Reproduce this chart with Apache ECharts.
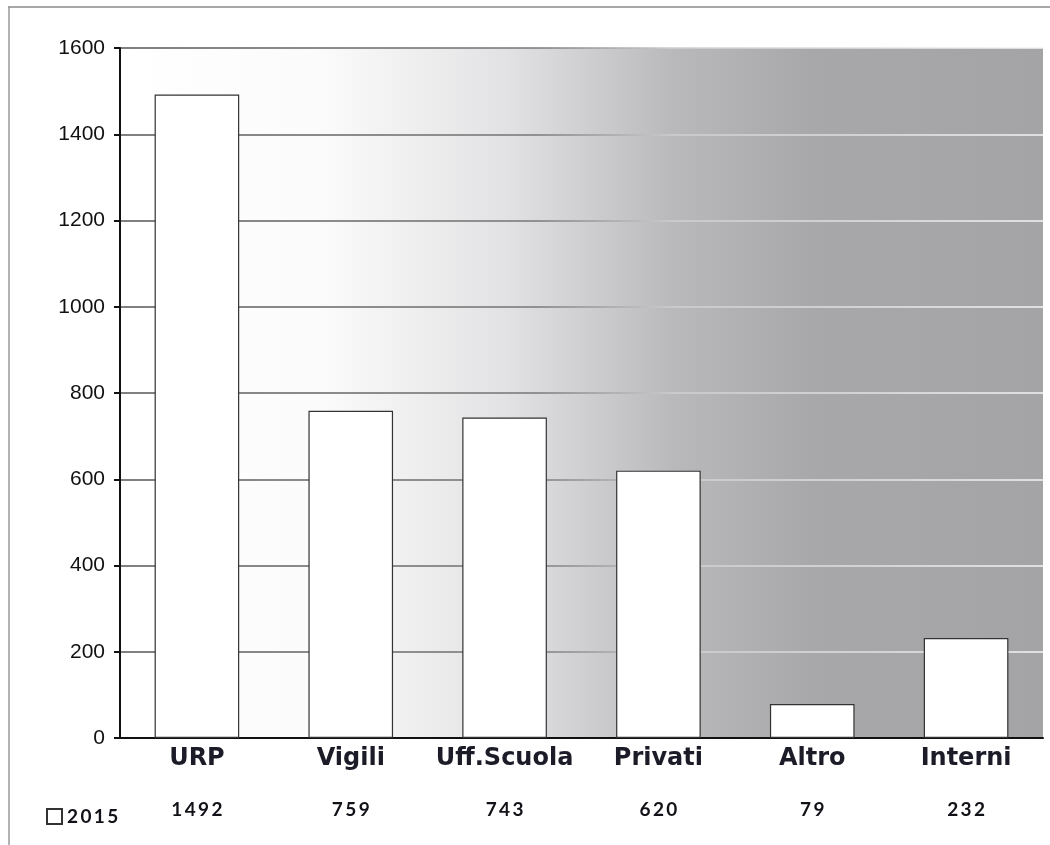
<!DOCTYPE html>
<html>
<head>
<meta charset="utf-8">
<script src="https://cdn.jsdelivr.net/npm/echarts@6/dist/echarts.min.js"></script>
<style>
    html, body {margin: 0; padding: 0; background: #fff;}
    #chart {width: 1050px; height: 845px;}
</style>
</head>
<body>
<div id="chart"></div>
<script>
const categories = ['URP', 'Vigili', 'Uff.Scuola', 'Privati', 'Altro', 'Interni'];
const values2015 = [1492, 759, 743, 620, 79, 232];
const seriesName = '2015';
const yTicks = {min: 0, max: 1600, interval: 200};

const chartIns = echarts.init(document.getElementById('chart'));

// sfondo del grafico: bianco a sinistra, grigio a destra
const plotBg = new echarts.graphic.LinearGradient(0, 0, 1, 0, [
    {offset: 0, color: '#ffffff'},
    {offset: 0.22, color: '#fbfbfb'},
    {offset: 0.42, color: '#e2e2e4'},
    {offset: 0.6, color: '#b9b9bb'},
    {offset: 0.75, color: '#a8a8aa'},
    {offset: 1, color: '#a4a4a6'}
]);

const gridLine = {
    type: 'linear', x: 120, y: 0, x2: 1043, y2: 0, global: true,
    colorStops: [
        {offset: 0, color: '#555'},
        {offset: 0.45, color: '#777'},
        {offset: 0.6, color: '#cfcfcf'},
        {offset: 1, color: '#f4f4f4'}
    ]
};

const spaced = (s) => String(s).split('').join('\u2009');

chartIns.setOption({
    animation: false,
    textStyle: {fontFamily: 'Lato, sans-serif'},
    grid: {left: 120, right: 7, top: 48, bottom: 107, show: true, backgroundColor: plotBg, borderWidth: 0},
    legend: {
        left: 41, top: 802,
        icon: 'rect',
        itemWidth: 15, itemHeight: 15, itemGap: 6,
        textStyle: {fontSize: 19, fontWeight: 'bold', fontFamily: 'Lato, sans-serif', color: '#111118', padding: [3, 0, 0, 0]},
        formatter: spaced,
        data: [seriesName]
    },
    graphic: [
        {type: 'line', shape: {x1: 8, y1: 7, x2: 1050, y2: 7}, style: {stroke: '#8a8a8a', lineWidth: 1.5}},
        {type: 'line', shape: {x1: 9, y1: 7, x2: 9, y2: 845}, style: {stroke: '#9a9a9a', lineWidth: 1.5}}
    ],
    xAxis: [{
        type: 'category',
        data: categories,
        axisLine: {lineStyle: {color: '#111', width: 2}},
        axisTick: {show: false},
        axisLabel: {
            interval: 0, fontSize: 24, fontWeight: 'bold', color: '#1c1c28', margin: 9,
            fontFamily: 'DejaVu Sans, sans-serif'
        }
    }, {
        type: 'category',
        position: 'bottom',
        offset: 54,
        data: categories,
        axisLine: {show: false},
        axisTick: {show: false},
        axisLabel: {
            interval: 0, fontSize: 19, fontWeight: 'bold', color: '#111118',
            formatter: (v, i) => spaced(values2015[i])
        }
    }],
    yAxis: {
        type: 'value',
        min: yTicks.min, max: yTicks.max, interval: yTicks.interval,
        axisLine: {show: true, lineStyle: {color: '#111', width: 2}},
        axisTick: {show: true, length: 6, lineStyle: {color: '#111', width: 2}},
        axisLabel: {fontSize: 21, color: '#111', fontFamily: 'Liberation Sans, Arial', margin: 15, formatter: (v) => String(v)},
        splitLine: {show: true, lineStyle: {color: gridLine, width: 1.5}}
    },
    series: [{
        name: seriesName,
        type: 'bar',
        data: values2015,
        barWidth: '55%',
        itemStyle: {color: '#ffffff', borderColor: '#333', borderWidth: 1.2},
        z: 3
    }]
});
</script>
</body>
</html>
